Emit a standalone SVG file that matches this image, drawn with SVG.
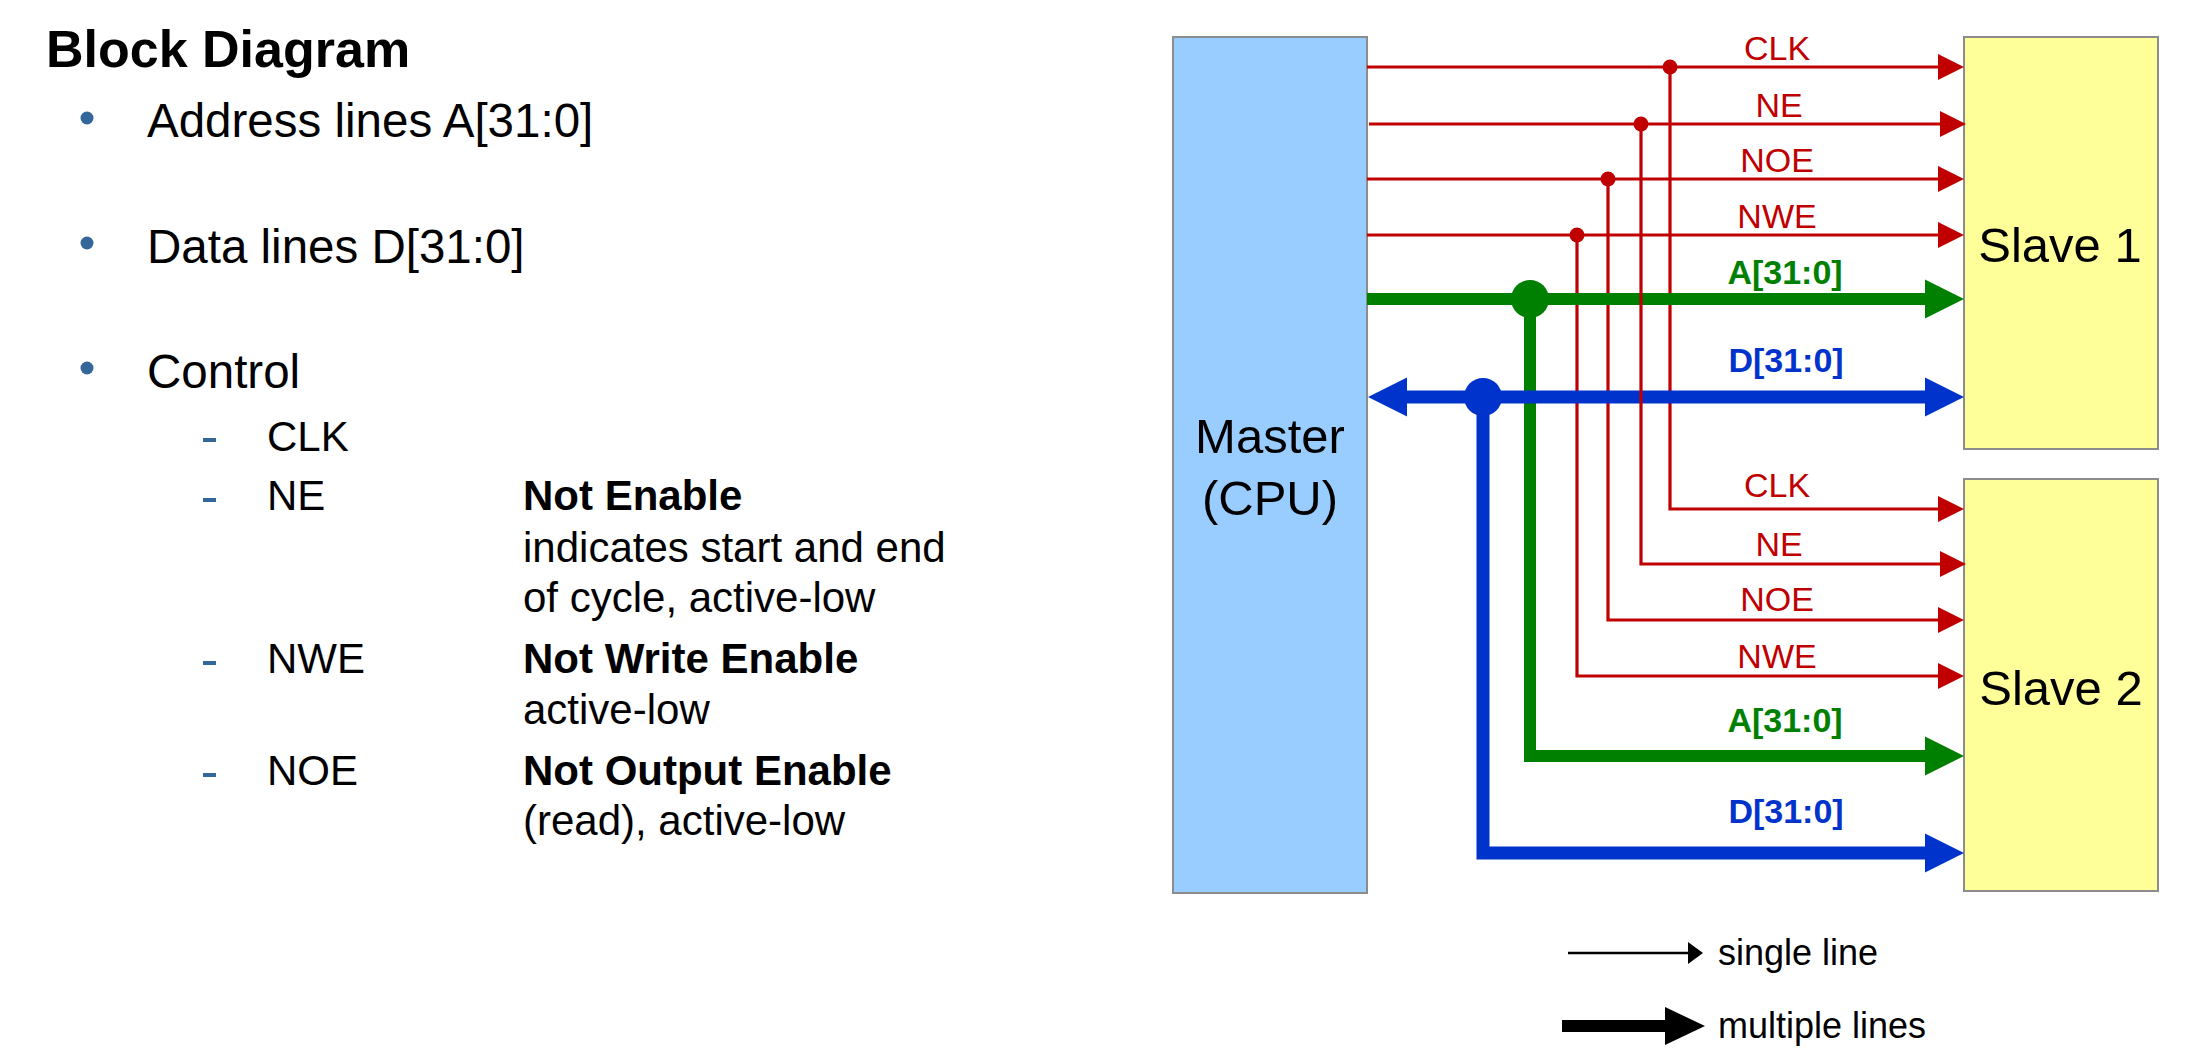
<svg xmlns="http://www.w3.org/2000/svg" width="2190" height="1052" viewBox="0 0 2190 1052">
  <style>
    .txt { font-family: "Liberation Sans", Arial, sans-serif; fill: #000; }
    .bold { font-weight: bold; }
    .box { stroke: #8c8c8c; stroke-width: 2; }
    .master { fill: #99ccff; }
    .slave { fill: #ffff99; }
    .boxlabel { font-size: 49px; text-anchor: middle; }
    .red { stroke: #c00000; stroke-width: 3.2; fill: none; }
    .green { stroke: #008000; stroke-width: 12; fill: none; }
    .blue { stroke: #0033cc; stroke-width: 13; fill: none; }
    .lbl { font-family: "Liberation Sans", Arial, sans-serif; font-size: 34px; text-anchor: middle; }
    .lred { fill: #c00000; }
    .lgreen { fill: #008000; font-weight: bold; }
    .lblue { fill: #0033cc; font-weight: bold; }
    .bullet { fill: #336699; }
    .h1 { font-size: 52px; font-weight: bold; }
    .l1 { font-size: 47.5px; }
    .l2 { font-size: 42px; }
    .leg { font-size: 36px; }
  </style>
  <defs>
    <marker id="ahRed" markerUnits="userSpaceOnUse" markerWidth="26" markerHeight="26" refX="0" refY="13" orient="auto" overflow="visible">
      <path d="M0,0 L26,13 L0,26 Z" fill="#c00000"/>
    </marker>
    <marker id="ahGreen" markerUnits="userSpaceOnUse" markerWidth="39" markerHeight="39" refX="0" refY="19.5" orient="auto" overflow="visible">
      <path d="M0,0 L39,19.5 L0,39 Z" fill="#008000"/>
    </marker>
    <marker id="ahBlue" markerUnits="userSpaceOnUse" markerWidth="39" markerHeight="39" refX="0" refY="19.5" orient="auto-start-reverse" overflow="visible">
      <path d="M0,0 L39,19.5 L0,39 Z" fill="#0033cc"/>
    </marker>
    <marker id="ahBlackS" markerUnits="userSpaceOnUse" markerWidth="15" markerHeight="22" refX="0" refY="11" orient="auto" overflow="visible">
      <path d="M0,0 L15,11 L0,22 Z" fill="#000"/>
    </marker>
    <marker id="ahBlackM" markerUnits="userSpaceOnUse" markerWidth="40" markerHeight="38" refX="0" refY="19" orient="auto" overflow="visible">
      <path d="M0,0 L40,19 L0,38 Z" fill="#000"/>
    </marker>
  </defs>
  <rect width="2190" height="1052" fill="#fff"/>

  <g id="text-panel" class="txt">
    <text class="txt h1" x="46" y="67">Block Diagram</text>
    <circle class="bullet" cx="87" cy="118" r="6.5"/>
    <circle class="bullet" cx="87" cy="243" r="6.5"/>
    <circle class="bullet" cx="87" cy="368" r="6.5"/>
    <text class="txt l1" x="147" y="137">Address lines A[31:0]</text>
    <text class="txt l1" x="147" y="263">Data lines D[31:0]</text>
    <text class="txt l1" x="147" y="388">Control</text>
    <rect class="bullet" x="203" y="438" width="13" height="4"/>
    <rect class="bullet" x="203" y="498" width="13" height="4"/>
    <rect class="bullet" x="203" y="661" width="13" height="4"/>
    <rect class="bullet" x="203" y="773" width="13" height="4"/>
    <text class="txt l2" x="267" y="451">CLK</text>
    <text class="txt l2" x="267" y="510">NE</text>
    <text class="txt l2" x="267" y="673">NWE</text>
    <text class="txt l2" x="267" y="785">NOE</text>
    <text class="txt l2 bold" x="523" y="510">Not Enable</text>
    <text class="txt l2" x="523" y="562">indicates start and end</text>
    <text class="txt l2" x="523" y="612">of cycle, active-low</text>
    <text class="txt l2 bold" x="523" y="673">Not Write Enable</text>
    <text class="txt l2" x="523" y="724">active-low</text>
    <text class="txt l2 bold" x="523" y="785">Not Output Enable</text>
    <text class="txt l2" x="523" y="835">(read), active-low</text>
  </g>

  <g id="master">
    <rect class="box master" x="1173" y="37" width="194" height="856"/>
    <text class="txt boxlabel" x="1270" y="453">Master</text>
    <text class="txt boxlabel" x="1270" y="515">(CPU)</text>
  </g>
  <g id="slave1">
    <rect class="box slave" x="1964" y="37" width="194" height="412"/>
    <text class="txt boxlabel" x="2060" y="262">Slave 1</text>
  </g>
  <g id="slave2">
    <rect class="box slave" x="1964" y="479" width="194" height="412"/>
    <text class="txt boxlabel" x="2061" y="705">Slave 2</text>
  </g>

  <g id="connectors">
    <path class="red" d="M1367,67 H1938" marker-end="url(#ahRed)"/>
    <path class="red" d="M1369,124 H1940" marker-end="url(#ahRed)"/>
    <path class="red" d="M1367,179 H1938" marker-end="url(#ahRed)"/>
    <path class="red" d="M1367,235 H1938" marker-end="url(#ahRed)"/>
    <path class="red" d="M1670,67 V509 H1938" marker-end="url(#ahRed)"/>
    <path class="red" d="M1608,179 V620 H1938" marker-end="url(#ahRed)"/>
    <path class="red" d="M1577,235 V676 H1938" marker-end="url(#ahRed)"/>
    <path class="green" d="M1367,299 H1925" marker-end="url(#ahGreen)"/>
    <path class="green" d="M1530,299 V756 H1925" marker-end="url(#ahGreen)"/>
    <path class="blue" d="M1407,397 H1925" marker-start="url(#ahBlue)" marker-end="url(#ahBlue)"/>
    <path class="blue" d="M1483,397 V853 H1925" marker-end="url(#ahBlue)"/>
    <path class="red" d="M1641,124 V564 H1940" marker-end="url(#ahRed)"/>
    <circle cx="1670" cy="67" r="7.5" fill="#c00000"/>
    <circle cx="1641" cy="124" r="7.5" fill="#c00000"/>
    <circle cx="1608" cy="179" r="7.5" fill="#c00000"/>
    <circle cx="1577" cy="235" r="7.5" fill="#c00000"/>
    <circle cx="1530" cy="299" r="19" fill="#008000"/>
    <circle cx="1483" cy="397" r="19" fill="#0033cc"/>
  </g>

  <g id="connector-labels">
    <text class="lbl lred" x="1777" y="60">CLK</text>
    <text class="lbl lred" x="1779" y="117">NE</text>
    <text class="lbl lred" x="1777" y="172">NOE</text>
    <text class="lbl lred" x="1777" y="228">NWE</text>
    <text class="lbl lgreen" x="1785" y="284">A[31:0]</text>
    <text class="lbl lblue" x="1786" y="372">D[31:0]</text>
    <text class="lbl lred" x="1777" y="497">CLK</text>
    <text class="lbl lred" x="1779" y="556">NE</text>
    <text class="lbl lred" x="1777" y="611">NOE</text>
    <text class="lbl lred" x="1777" y="668">NWE</text>
    <text class="lbl lgreen" x="1785" y="732">A[31:0]</text>
    <text class="lbl lblue" x="1786" y="823">D[31:0]</text>
  </g>

  <g id="legend">
    <path d="M1568,953 H1688" stroke="#000" stroke-width="2.5" fill="none" marker-end="url(#ahBlackS)"/>
    <text class="txt leg" x="1718" y="965">single line</text>
    <path d="M1562,1026 H1665" stroke="#000" stroke-width="12" fill="none" marker-end="url(#ahBlackM)"/>
    <text class="txt leg" x="1718" y="1038">multiple lines</text>
  </g>
</svg>
